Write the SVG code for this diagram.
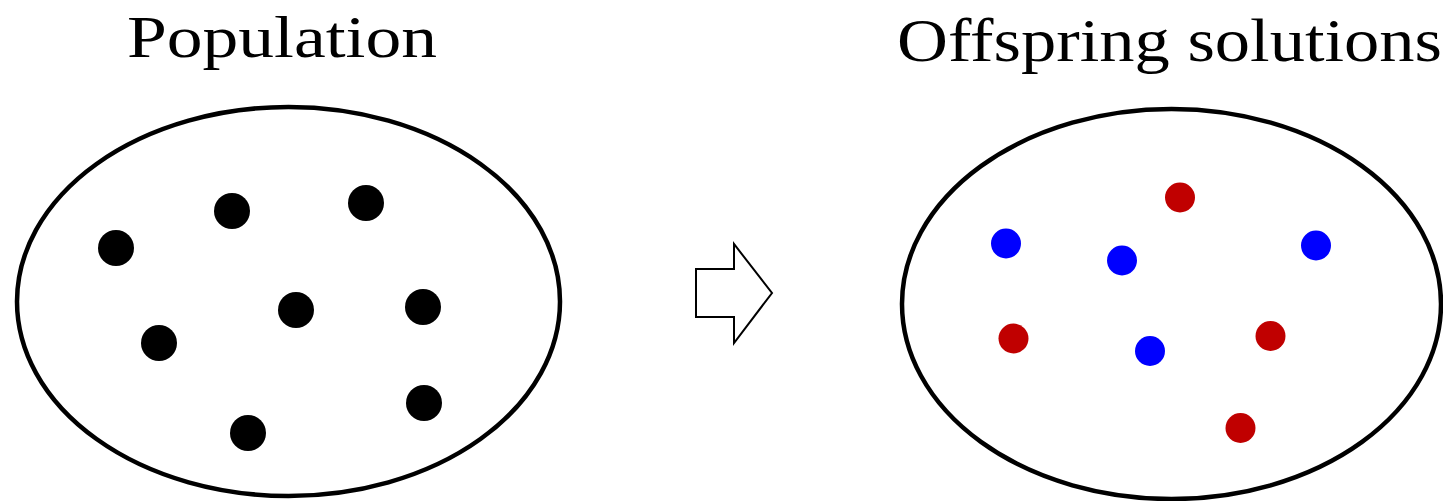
<svg xmlns="http://www.w3.org/2000/svg" width="1443" height="501" viewBox="0 0 1443 501">
<style>
.title{font-family:"Liberation Serif","DejaVu Serif",serif;fill:#000;}
.set{fill:#fff;stroke:#000;stroke-width:4.5;}
.blk{fill:#000;}
.red{fill:#C00000;}
.blu{fill:#0000FF;}
.arrow{fill:#fff;stroke:#000;stroke-width:2;stroke-linejoin:miter;}
</style>
<rect width="1443" height="501" fill="#fff"/>
<g id="population">
<text class="title" x="127" y="57" font-size="60" textLength="310" lengthAdjust="spacingAndGlyphs">Population</text>
<ellipse class="set" cx="288.5" cy="301.5" rx="271.5" ry="194.5"/>
<circle class="blk" cx="116" cy="248" r="18"/>
<circle class="blk" cx="232" cy="211" r="18"/>
<circle class="blk" cx="366" cy="203" r="18"/>
<circle class="blk" cx="296" cy="310" r="18"/>
<circle class="blk" cx="423" cy="307" r="18"/>
<circle class="blk" cx="159" cy="343" r="18"/>
<circle class="blk" cx="424" cy="403" r="18"/>
<circle class="blk" cx="248" cy="433" r="18"/>
</g>
<g id="offspring">
<text class="title" x="897" y="61" font-size="62" textLength="545" lengthAdjust="spacingAndGlyphs">Offspring solutions</text>
<ellipse class="set" cx="1171.5" cy="304" rx="269.5" ry="195"/>
<circle class="red" cx="1180" cy="197.5" r="15"/>
<circle class="blu" cx="1006" cy="243.5" r="15"/>
<circle class="blu" cx="1122" cy="260.5" r="15"/>
<circle class="blu" cx="1316" cy="245.5" r="15"/>
<circle class="red" cx="1013.5" cy="338.5" r="15"/>
<circle class="blu" cx="1150" cy="351" r="15"/>
<circle class="red" cx="1270.5" cy="336" r="15"/>
<circle class="red" cx="1240.5" cy="428" r="15"/>
</g>
<g id="connectors">
<polygon class="arrow" points="696,269 734,269 734,244 772,293 734,343 734,317 696,317"/>
</g>
</svg>
